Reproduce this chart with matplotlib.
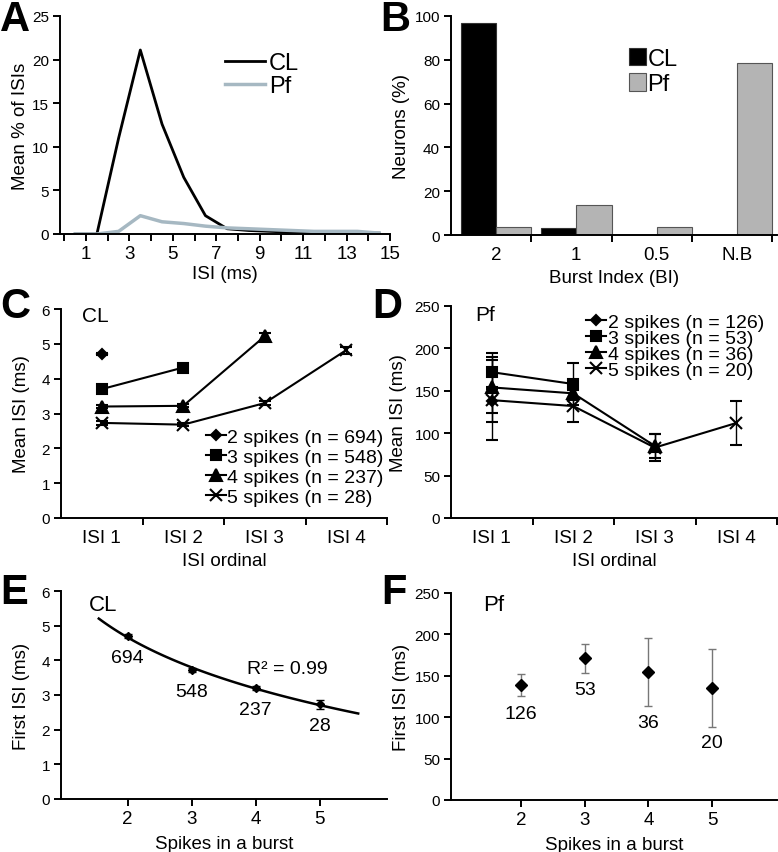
import numpy as np
import matplotlib
matplotlib.use("Agg")
import matplotlib.pyplot as plt
from matplotlib.lines import Line2D

plt.rcParams['font.family'] = ['Liberation Sans', 'DejaVu Sans']
plt.rcParams['axes.linewidth'] = 1.4

# ---- A: ISI distribution ----
isi_bins = [0.5, 1.5, 2.5, 3.5, 4.5, 5.5, 6.5, 7.5, 8.5, 9.5, 10.5, 11.5, 12.5, 13.5, 14.5]
cl_isi_pct = [0, 0, 11, 21.1, 12.6, 6.5, 2.1, 0.6, 0.4, 0.3, 0.2, 0.15, 0.1, 0.1, 0.1]
pf_isi_pct = [0, 0, 0.3, 2.1, 1.4, 1.2, 0.9, 0.7, 0.6, 0.5, 0.4, 0.3, 0.3, 0.3, 0.1]

# ---- B: burst index ----
bi_labels = ['2', '1', '0.5', 'N.B']
cl_neurons = [97, 3, 0, 0]
pf_neurons = [3.5, 13.5, 3.5, 78.5]

# ---- C: CL mean ISI by ordinal ----
ordinal_labels = ['ISI 1', 'ISI 2', 'ISI 3', 'ISI 4']
cl_legend = ['2 spikes (n = 694)', '3 spikes (n = 548)', '4 spikes (n = 237)', '5 spikes (n = 28)']
cl_mean = [[4.7], [3.7, 4.32], [3.2, 3.22, 5.22], [2.73, 2.68, 3.3, 4.82]]
cl_err = [[0.03], [0.03, 0.03], [0.03, 0.04, 0.1], [0.05, 0.04, 0.05, 0.1]]

# ---- D: Pf mean ISI by ordinal ----
pf_legend = ['2 spikes (n = 126)', '3 spikes (n = 53)', '4 spikes (n = 36)', '5 spikes (n = 20)']
pf_mean = [[138], [172, 158], [154, 147, 85], [139, 132, 83, 112]]
pf_err = [[14], [18, 25], [41, 8, 14], [47, 19, 16, 26]]

# ---- E / F: first ISI vs spikes in burst ----
spikes = [2, 3, 4, 5]
cl_first = [4.7, 3.72, 3.2, 2.73]
cl_first_err = [0.05, 0.05, 0.05, 0.12]
cl_n = ['694', '548', '237', '28']
pf_first = [139, 171, 155, 135]
pf_first_err = [13.5, 18, 41, 47]
pf_n = ['126', '53', '36', '20']
pf_label_y = [105, 134, 94, 69]

markers = ['D', 's', '^', 'x']
msizes = [5, 7, 8, 8]

W, H = 778, 853
fig = plt.figure(figsize=(W / 100, H / 100), dpi=100)


def px_axes(l, t, r, b):
    return fig.add_axes([l / W, 1 - b / H, (r - l) / W, (b - t) / H])


def style(ax):
    ax.spines['top'].set_visible(False)
    ax.spines['right'].set_visible(False)
    ax.tick_params(direction='out', length=5, width=1.4, pad=3)
    ax.tick_params(axis='x', labelsize=13.5)
    ax.tick_params(axis='y', labelsize=11)


# A
ax = px_axes(60, 17, 390, 235)
style(ax)
ax.plot(isi_bins, cl_isi_pct, color='black', lw=2, label='CL')
ax.plot(isi_bins, pf_isi_pct, color='#a6b8c2', lw=2.5, label='Pf')
ax.set_xlim(-0.2, 15)
ax.set_ylim(0, 25)
ax.set_xticks(range(0, 16))
ax.set_xticklabels([str(i) if i % 2 else '' for i in range(0, 16)])
ax.set_yticks([0, 5, 10, 15, 20, 25])
ax.set_xlabel('ISI (ms)', fontsize=13.5, labelpad=2)
ax.set_ylabel('Mean % of ISIs', fontsize=13.5, labelpad=2)
ax.legend(loc='upper left', bbox_to_anchor=(0.5, 0.835), frameon=False, fontsize=17,
          handlelength=1.7, handletextpad=0.15, borderpad=0, borderaxespad=0, labelspacing=0.05)

# B
ax = px_axes(451, 17, 777, 236)
style(ax)
xb = np.arange(len(bi_labels))
bw = 0.44
ax.bar(xb - bw / 2, cl_neurons, width=bw, color='black', edgecolor='#333333', lw=0.8, label='CL')
ax.bar(xb + bw / 2, pf_neurons, width=bw, color='#b4b4b4', edgecolor='#555555', lw=0.8, label='Pf')
ax.set_xlim(-0.56, 3.5)
ax.set_ylim(0, 100)
ax.set_xticks(xb + 0.44)
ax.set_xticklabels([])
ax.set_xticks(xb, minor=True)
ax.set_xticklabels(bi_labels, minor=True)
ax.tick_params(axis='x', which='minor', length=0, labelsize=13.5, pad=8)
ax.set_yticks([0, 20, 40, 60, 80, 100])
ax.set_xlabel('Burst Index (BI)', fontsize=13.5, labelpad=4)
ax.set_ylabel('Neurons (%)', fontsize=13.5, labelpad=3)
ax.legend(loc='upper left', bbox_to_anchor=(0.545, 0.855), frameon=False, fontsize=17,
          handlelength=0.75, handleheight=0.75, handletextpad=0.05, borderpad=0,
          borderaxespad=0, labelspacing=0.15)


def ordinal_panel(ax, means, errs, labels):
    style(ax)
    for k, (m, e) in enumerate(zip(means, errs)):
        x = np.arange(len(m))
        ax.errorbar(x, m, yerr=e, color='black', lw=1.5, marker=markers[k], ms=msizes[k],
                    mew=1.5, ecolor='black', elinewidth=1, capsize=4, capthick=1, label=labels[k])
    ax.set_xlim(-0.5, 3.5)
    ax.set_xticks([0.5, 1.5, 2.5, 3.5])
    ax.set_xticklabels([])
    ax.set_xticks(range(4), minor=True)
    ax.set_xticklabels(ordinal_labels, minor=True)
    ax.tick_params(axis='x', which='minor', length=0, labelsize=13.5, pad=8)
    ax.set_xlabel('ISI ordinal', fontsize=13.5, labelpad=4)


def legend_handles():
    return [Line2D([0], [0], color='black', lw=1.5, marker=markers[k], ms=msizes[k], mew=1.5)
            for k in range(4)]


# C
ax = px_axes(61, 310, 387, 519)
ordinal_panel(ax, cl_mean, cl_err, cl_legend)
ax.set_ylim(0, 6)
ax.set_yticks(range(0, 7))
ax.set_ylabel('Mean ISI (ms)', fontsize=13.5, labelpad=8)
ax.text(0.065, 0.967, 'CL', transform=ax.transAxes, fontsize=15, va='center')
ax.legend(legend_handles(), cl_legend, loc='upper left', bbox_to_anchor=(0.445, 0.43),
          frameon=False, fontsize=14, handlelength=1.0, handletextpad=0.1, borderpad=0,
          borderaxespad=0, labelspacing=0.12)

# D
ax = px_axes(451, 307, 777, 519)
ordinal_panel(ax, pf_mean, pf_err, pf_legend)
ax.set_ylim(0, 250)
ax.set_yticks(range(0, 251, 50))
ax.set_ylabel('Mean ISI (ms)', fontsize=13.5, labelpad=5)
ax.text(0.074, 0.962, 'Pf', transform=ax.transAxes, fontsize=15, va='center')
ax.legend(legend_handles(), pf_legend, loc='upper left', bbox_to_anchor=(0.415, 0.965),
          frameon=False, fontsize=14, handlelength=1.0, handletextpad=0.1, borderpad=0,
          borderaxespad=0, labelspacing=-0.08)

# E
ax = px_axes(61, 592, 387, 800)
style(ax)
coef = np.polyfit(np.log(spikes), cl_first, 1)
xfit = np.linspace(1.55, 5.6, 100)
ax.plot(xfit, np.polyval(coef, np.log(xfit)), color='black', lw=1.8)
ax.errorbar(spikes, cl_first, yerr=cl_first_err, fmt='D', color='black', ms=4,
            elinewidth=1, capsize=3)
for x, y, n in zip(spikes, cl_first, cl_n):
    ax.text(x, y - 0.62, n, ha='center', va='center', fontsize=14)
ax.text(4.5, 3.75, 'R² = 0.99', ha='center', va='center', fontsize=14)
ax.text(1.4, 5.62, 'CL', fontsize=16, va='center')
ax.set_xlim(0.96, 6.05)
ax.set_ylim(0, 6)
ax.set_xticks(spikes)
ax.set_yticks(range(0, 7))
ax.set_xlabel('Spikes in a burst', fontsize=13.5, labelpad=6)
ax.set_ylabel('First ISI (ms)', fontsize=13.5, labelpad=8)

# F
ax = px_axes(451, 594, 777, 801)
style(ax)
ax.errorbar(spikes, pf_first, yerr=pf_first_err, fmt='D', color='black', ms=6,
            ecolor='#777777', elinewidth=1, capsize=3, capthick=1)
for x, y, n in zip(spikes, pf_label_y, pf_n):
    ax.text(x, y, n, ha='center', va='center', fontsize=14)
ax.text(1.4, 236, 'Pf', fontsize=16, va='center')
ax.set_xlim(0.9, 6.02)
ax.set_ylim(0, 250)
ax.set_xticks(spikes)
ax.set_yticks(range(0, 251, 50))
ax.set_xlabel('Spikes in a burst', fontsize=13.5, labelpad=6)
ax.set_ylabel('First ISI (ms)', fontsize=13.5, labelpad=3)

# panel letters
for letter, x, y in [('A', 0, 0), ('B', 380, 0), ('C', 0, 287.5), ('D', 372, 287.5),
                     ('E', 0, 573.5), ('F', 381, 572.5)]:
    fig.text(x / W, 1 - y / H, letter, fontsize=30, fontweight='bold', va='top', ha='left')

fig.savefig('out.png', dpi=100)
